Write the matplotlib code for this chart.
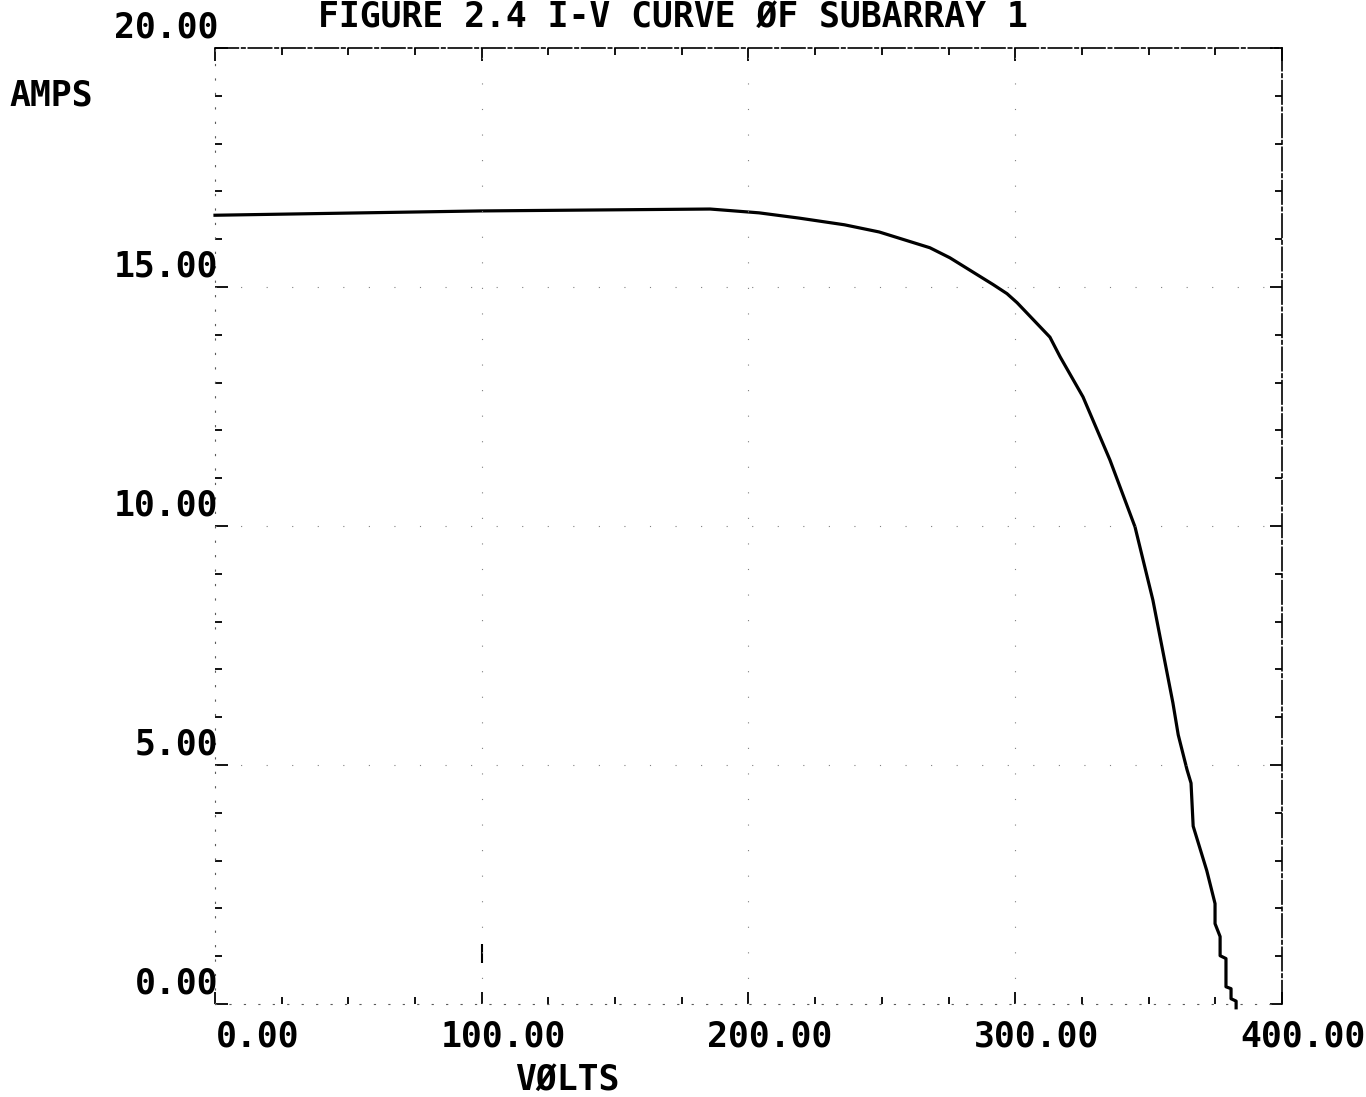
import numpy as np
import matplotlib.pyplot as plt
from matplotlib.transforms import offset_copy

# --- I-V curve of subarray 1 ---
volts = [0.0, 99.3, 185.6, 204.0, 219.0, 236.0, 249.0, 268.0, 275.5, 291.7,
         296.9, 300.7, 313.0, 316.8, 325.4, 335.5, 344.9, 351.6, 359.1, 361.1,
         364.4, 365.9, 366.7, 371.8, 374.9, 374.9, 376.8, 376.8, 379.0, 379.0,
         380.9, 380.9, 382.8, 382.8]
amps = [16.50, 16.59, 16.63, 16.55, 16.44, 16.30, 16.15, 15.82, 15.61, 15.05,
        14.86, 14.67, 13.95, 13.54, 12.70, 11.38, 9.98, 8.45, 6.30, 5.63,
        4.90, 4.62, 3.72, 2.79, 2.10, 1.68, 1.41, 1.01, 0.95, 0.36,
        0.32, 0.11, 0.06, -0.08]

x_ticks = [0, 100, 200, 300, 400]
x_labels = ["0.00", "100.00", "200.00", "300.00", "400.00"]
y_ticks = [0, 5, 10, 15, 20]
y_labels = ["0.00", "5.00", "10.00", "15.00", "20.00"]

font = {"family": "DejaVu Sans Mono", "weight": "bold"}
fsize = 25

fig = plt.figure(figsize=(13.66, 10.97), dpi=100)
ax = fig.add_axes([0.1574, 0.0848, 0.7811, 0.8715])

ax.plot(volts, amps, color="black", lw=2.3, solid_joinstyle="round",
        clip_on=False)

# stray plotter mark near (100, 1)
ax.vlines(100, 0.85, 1.25, color="black", lw=1.5)

ax.set_xlim(0, 400)
ax.set_ylim(0, 20)

# sparse dotted grid
for v in [100, 200, 300]:
    ax.axvline(v, color="0.5", lw=0.8, ls=(0, (1, 22)))
for a in [5, 10, 15]:
    ax.axhline(a, color="0.5", lw=0.8, ls=(0, (1, 22)))

# spines: top/right dash-dot, left/bottom faint dotted
for s in ["top", "right"]:
    ax.spines[s].set_linewidth(1.2)
    ax.spines[s].set_linestyle((0, (14, 2, 2, 2)))
for s in ["left", "bottom"]:
    ax.spines[s].set_linewidth(0.8)
    ax.spines[s].set_linestyle((0, (1, 12)))
    ax.spines[s].set_color("0.35")

ax.set_xticks(np.arange(0, 401, 25), minor=True)
ax.set_xticks(x_ticks)
ax.set_yticks(np.arange(0, 21, 1), minor=True)
ax.set_yticks(y_ticks)
ax.tick_params(which="both", top=True, right=True, direction="in",
               labelbottom=False, labelleft=False, width=1.3)
ax.tick_params(which="major", length=9)
ax.tick_params(which="minor", length=5)

# tick labels placed like the plotter output
xt = offset_copy(ax.get_xaxis_transform(), fig=fig, x=84, y=-16, units="dots")
for v, lab in zip(x_ticks, x_labels):
    ax.text(v, 0, lab, transform=xt, ha="right", va="top", fontsize=fsize, **font)

yt = offset_copy(ax.get_yaxis_transform(), fig=fig, x=3, y=3, units="dots")
for v, lab in zip(y_ticks, y_labels):
    ax.text(0, v, lab, transform=yt, ha="right", va="bottom", fontsize=fsize, **font)

fig.text(0.4927, 0.9755, "FIGURE 2.4 I-V CURVE ØF SUBARRAY 1", ha="center",
         va="baseline", fontsize=fsize, **font)
fig.text(0.007, 0.913, "AMPS", ha="left", va="center", fontsize=fsize, **font)
fig.text(0.415, 0.016, "VØLTS", ha="center", va="center", fontsize=fsize, **font)

fig.savefig("out.png", dpi=100)
